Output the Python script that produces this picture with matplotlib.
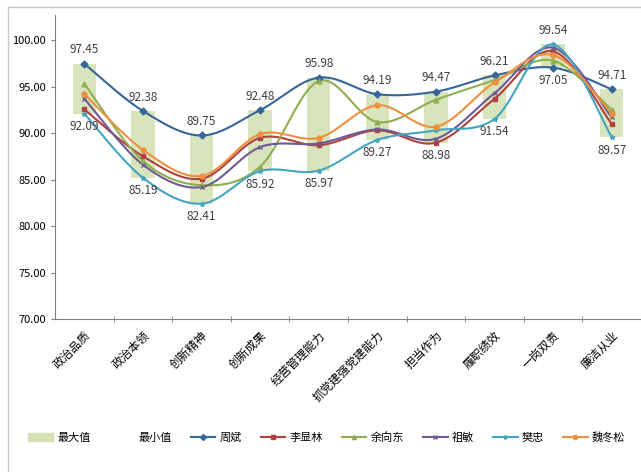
import numpy as np
import matplotlib
matplotlib.use('Agg')
import matplotlib.pyplot as plt
from matplotlib.patches import Patch
from matplotlib.lines import Line2D

plt.rcParams['font.family'] = ['Noto Sans CJK SC', 'DejaVu Sans']

# 类别与数据
categories = ['政治品质', '政治本领', '创新精神', '创新成果', '经营管理能力',
              '抓党建强党建能力', '担当作为', '履职绩效', '一岗双责', '廉洁从业']
max_vals = [97.45, 92.38, 89.75, 92.48, 95.98, 94.19, 94.47, 96.21, 99.54, 94.71]
min_vals = [92.09, 85.19, 82.41, 85.92, 85.97, 89.27, 88.98, 91.54, 97.05, 89.57]

zhou_bin = [97.45, 92.38, 89.75, 92.48, 95.98, 94.19, 94.47, 96.21, 97.05, 94.71]
li_xianlin = [92.55, 87.5, 85.1, 89.5, 88.7, 90.3, 88.98, 93.7, 98.8, 91.0]
yu_xiangdong = [95.3, 87.0, 84.4, 86.4, 95.6, 91.2, 93.6, 95.7, 97.8, 92.5]
zu_min = [93.7, 86.6, 84.2, 88.5, 88.9, 90.4, 89.4, 94.3, 99.2, 91.7]
fan_zhong = [92.09, 85.19, 82.41, 85.92, 85.97, 89.27, 90.3, 91.54, 99.54, 89.57]
wei_dongsong = [94.2, 88.2, 85.4, 89.9, 89.5, 93.0, 90.7, 95.45, 98.4, 92.1]

names = ['周斌', '李显林', '余向东', '祖敏', '樊忠', '魏冬松']
series = [zhou_bin, li_xianlin, yu_xiangdong, zu_min, fan_zhong, wei_dongsong]
colors = ['#36659a', '#b0413e', '#8fae4e', '#6f5a93', '#45a5c0', '#ef8f3f']
markers = ['D', 's', '^', 'x', '*', 'o']


def smooth(x, y, n=30):
    # 类似Excel平滑线的Catmull-Rom贝塞尔曲线
    x = np.asarray(x, float)
    y = np.asarray(y, float)
    px = np.concatenate([[x[0]], x, [x[-1]]])
    py = np.concatenate([[y[0]], y, [y[-1]]])
    xs, ys = [], []
    t = np.linspace(0, 1, n)
    for i in range(1, len(px) - 2):
        p0 = np.array([px[i], py[i]])
        p3 = np.array([px[i + 1], py[i + 1]])
        p1 = p0 + (np.array([px[i + 1], py[i + 1]]) - np.array([px[i - 1], py[i - 1]])) / 6
        p2 = p3 - (np.array([px[i + 2], py[i + 2]]) - np.array([px[i], py[i]])) / 6
        b = (np.outer((1 - t) ** 3, p0) + np.outer(3 * (1 - t) ** 2 * t, p1)
             + np.outer(3 * (1 - t) * t ** 2, p2) + np.outer(t ** 3, p3))
        xs.append(b[:, 0])
        ys.append(b[:, 1])
    return np.concatenate(xs), np.concatenate(ys)


fig = plt.figure(figsize=(6.41, 4.72), dpi=100)
ax = fig.add_axes([0.086, 0.324, 0.914, 0.644])

x = np.arange(len(categories))
diff = np.array(max_vals) - np.array(min_vals)
ax.bar(x, min_vals, width=0.4, color='none')
ax.bar(x, diff, bottom=min_vals, width=0.4, color='#d3e1b5', alpha=0.9, zorder=1)

for s, c, m in zip(series, colors, markers):
    sx, sy = smooth(x, s)
    ax.plot(sx, sy, color=c, lw=1.5, zorder=3)
    ax.plot(x, s, ls='none', marker=m, color=c, ms=3.5, zorder=4)

for i in range(len(categories)):
    ax.text(x[i], max_vals[i] + 0.8, f'{max_vals[i]:.2f}', ha='center', va='bottom',
            fontsize=8.5, color='#404040', zorder=5)
    ax.text(x[i], min_vals[i] - 0.7, f'{min_vals[i]:.2f}', ha='center', va='top',
            fontsize=8.5, color='#404040', zorder=5)

ax.set_xlim(-0.5, len(categories) - 0.5)
ax.set_ylim(70, 102.7)
ax.set_yticks(np.arange(70, 100.1, 5))
ax.set_yticklabels([f'{v:.2f}' for v in np.arange(70, 100.1, 5)], fontsize=8)
ax.set_xticks(x)
ax.set_xticklabels(categories, rotation=45, ha='right', rotation_mode='anchor', fontsize=8.5)
ax.set_xticks(np.arange(0.5, len(categories) - 0.5, 1), minor=True)
ax.tick_params(axis='x', which='major', length=0, pad=7)
ax.tick_params(axis='x', which='minor', length=4, direction='inout', color='#808080')
ax.tick_params(axis='y', length=3, color='#808080')
for sp in ['top', 'right']:
    ax.spines[sp].set_visible(False)
for sp in ['left', 'bottom']:
    ax.spines[sp].set_color('#808080')

handles = [Patch(color='#d3e1b5'), Patch(color='none')]
handles += [Line2D([], [], color=c, marker=m, ms=3, lw=1.5) for c, m in zip(colors, markers)]
labels = ['最大值', '最小值'] + names
fig.legend(handles, labels, loc='center', bbox_to_anchor=(0.51, 0.074), ncol=8,
           frameon=False, fontsize=8, handlelength=2.2, columnspacing=1.7, handletextpad=0.4)

# 外框
fig.add_artist(Line2D([8 / 641, 8 / 641], [0, 1 - 7 / 472], color='#c8c8c8', lw=1))
fig.add_artist(Line2D([8 / 641, 1], [1 - 7 / 472, 1 - 7 / 472], color='#c8c8c8', lw=1))

fig.savefig('out.png', dpi=100)
